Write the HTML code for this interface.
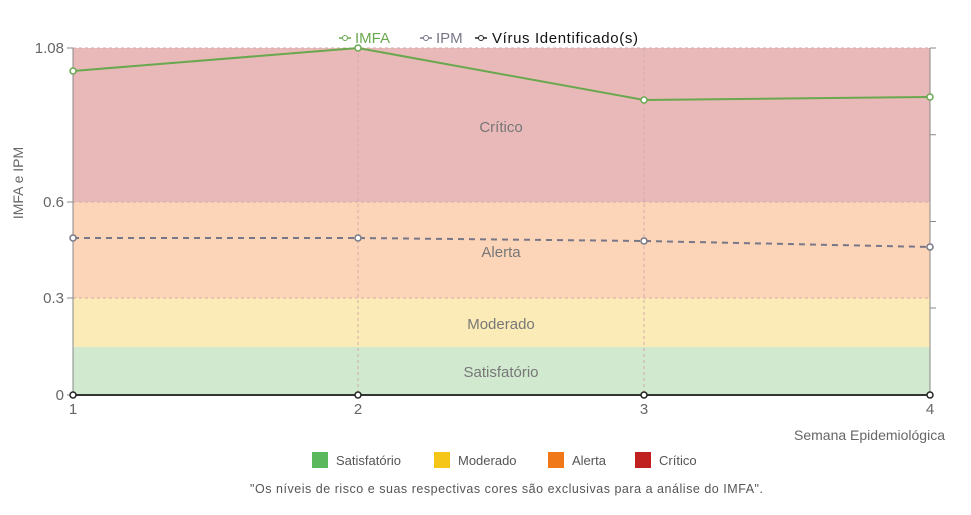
<!DOCTYPE html>
<html><head><meta charset="utf-8"><style>
body{margin:0;background:#fff;width:971px;height:510px;overflow:hidden}
text{font-family:"Liberation Sans",sans-serif}
</style></head><body>
<svg width="971" height="510" viewBox="0 0 971 510">
<rect x="73" y="48" width="857" height="154" fill="#e8b9b8"/>
<rect x="73" y="202" width="857" height="96" fill="#fcd5b8"/>
<rect x="73" y="298" width="857" height="49" fill="#fbecb7"/>
<rect x="73" y="347" width="857" height="48" fill="#d1e9cf"/>
<g stroke="#d0aaaa" stroke-dasharray="3,3" stroke-width="1">
<line x1="73" y1="48" x2="930" y2="48"/><line x1="73" y1="202" x2="930" y2="202"/><line x1="73" y1="298" x2="930" y2="298"/>
<line x1="358" y1="48" x2="358" y2="395"/><line x1="644" y1="48" x2="644" y2="395"/>
</g>
<g stroke="#888" stroke-width="1">
<line x1="73" y1="48" x2="73" y2="395"/><line x1="930" y1="48" x2="930" y2="395"/>
<line x1="67" y1="48" x2="73" y2="48"/><line x1="67" y1="202" x2="73" y2="202"/><line x1="67" y1="298" x2="73" y2="298"/><line x1="67" y1="395" x2="73" y2="395"/>
<line x1="930" y1="48" x2="936" y2="48"/><line x1="930" y1="134.75" x2="936" y2="134.75"/><line x1="930" y1="221.5" x2="936" y2="221.5"/><line x1="930" y1="308" x2="936" y2="308"/>
</g>
<line x1="73" y1="395" x2="930" y2="395" stroke="#333" stroke-width="2"/>
<g fill="#666" font-size="15" text-anchor="end">
<text x="64" y="53">1.08</text><text x="64" y="207">0.6</text><text x="64" y="303">0.3</text><text x="64" y="400">0</text>
</g>
<g fill="#666" font-size="15" text-anchor="middle">
<text x="73" y="414">1</text><text x="358" y="414">2</text><text x="644" y="414">3</text><text x="930" y="414">4</text>
</g>
<text x="945" y="440" fill="#666" font-size="14" text-anchor="end">Semana Epidemiológica</text>
<text transform="translate(23,183) rotate(-90)" fill="#666" font-size="14" text-anchor="middle">IMFA e IPM</text>
<g fill="#777" font-size="15" text-anchor="middle">
<text x="501" y="132">Crítico</text><text x="501" y="257">Alerta</text><text x="501" y="329">Moderado</text><text x="501" y="377">Satisfatório</text>
</g>
<polyline points="73,71 358,48 644,100 930,97" fill="none" stroke="#6aa84f" stroke-width="2"/>
<polyline points="73,238 358,238 644,241 930,247" fill="none" stroke="#777788" stroke-width="2" stroke-dasharray="6,5"/>
<g fill="#fff" stroke="#6aa84f" stroke-width="1.5"><circle cx="73" cy="71" r="3"/><circle cx="358" cy="48" r="3"/><circle cx="644" cy="100" r="3"/><circle cx="930" cy="97" r="3"/></g>
<g fill="#fff" stroke="#777788" stroke-width="1.5"><circle cx="73" cy="238" r="3"/><circle cx="358" cy="238" r="3"/><circle cx="644" cy="241" r="3"/><circle cx="930" cy="247" r="3"/></g>
<g fill="#fff" stroke="#222" stroke-width="1.5"><circle cx="73" cy="395" r="3"/><circle cx="358" cy="395" r="3"/><circle cx="644" cy="395" r="3"/><circle cx="930" cy="395" r="3"/></g>
<g font-size="15">
<line x1="339" y1="38" x2="351" y2="38" stroke="#6aa84f" stroke-width="1.5"/><circle cx="345" cy="38" r="2.5" fill="#fff" stroke="#6aa84f"/>
<text x="355" y="43" fill="#6aa84f">IMFA</text>
<line x1="420" y1="38" x2="432" y2="38" stroke="#777788" stroke-width="1.5"/><circle cx="426" cy="38" r="2.5" fill="#fff" stroke="#777788"/>
<text x="436" y="43" fill="#777788">IPM</text>
<line x1="475" y1="38" x2="487" y2="38" stroke="#222" stroke-width="1.5"/><circle cx="481" cy="38" r="2.5" fill="#fff" stroke="#222"/>
<text x="492" y="43" fill="#111" textLength="146">Vírus Identificado(s)</text>
</g>
<g font-size="13" fill="#555">
<rect x="312" y="452" width="16" height="16" fill="#5cb85c"/><text x="336" y="465">Satisfatório</text>
<rect x="434" y="452" width="16" height="16" fill="#f5c518"/><text x="458" y="465">Moderado</text>
<rect x="548" y="452" width="16" height="16" fill="#f07818"/><text x="572" y="465">Alerta</text>
<rect x="635" y="452" width="16" height="16" fill="#c0211f"/><text x="659" y="465">Crítico</text>
</g>
<text x="250" y="493" font-size="12.5" fill="#555" textLength="513">"Os níveis de risco e suas respectivas cores são exclusivas para a análise do IMFA".</text>
</svg>
</body></html>
